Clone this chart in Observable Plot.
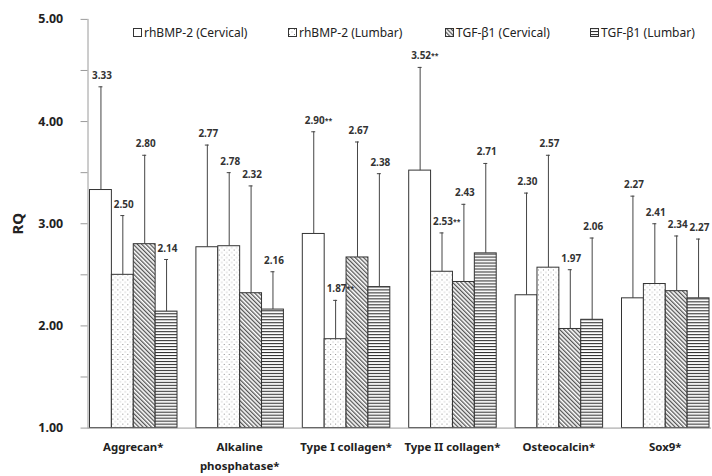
<!DOCTYPE html>
<html>
<head>
<meta charset="utf-8">
<script src="https://cdn.jsdelivr.net/npm/d3@7"></script>
<script src="https://cdn.jsdelivr.net/npm/@observablehq/plot@0.6"></script>
<style>
  html, body { margin: 0; padding: 0; background: #fff; overflow: hidden; }
  #wrap { position: relative; width: 712px; height: 476px; overflow: hidden; }
  #legend { position: absolute; top: 24px; left: 133px; display: grid;
    grid-template-columns: 155px 157px 145px auto; font-family: "Noto Sans", sans-serif;
    font-size: 12px; color: #222; }
  #legend .item { display: flex; align-items: center; white-space: nowrap; }
  #legend svg { margin-right: 2px; }
</style>
</head>
<body>
<div id="wrap"><div id="legend"></div></div>
<script>
// ---- data ----
const categories = ["Aggrecan*", "Alkaline\nphosphatase*", "Type I collagen*", "Type II collagen*", "Osteocalcin*", "Sox9*"];
const series = ["rhBMP-2 (Cervical)", "rhBMP-2 (Lumbar)", "TGF-β1 (Cervical)", "TGF-β1 (Lumbar)"];

const bmpCervical = [3.33, 2.77, 2.90, 3.52, 2.30, 2.27];
const bmpLumbar   = [2.50, 2.78, 1.87, 2.53, 2.57, 2.41];
const tgfCervical = [2.80, 2.32, 2.67, 2.43, 1.97, 2.34];
const tgfLumbar   = [2.14, 2.16, 2.38, 2.71, 2.06, 2.27];

const bmpCervicalSD = [1.01, 1.00, 1.00, 1.01, 1.00, 1.00];
const bmpLumbarSD   = [0.58, 0.72, 0.38, 0.38, 1.10, 0.59];
const tgfCervicalSD = [0.87, 1.05, 1.13, 0.76, 0.58, 0.54];
const tgfLumbarSD   = [0.51, 0.37, 1.11, 0.88, 0.80, 0.58];

const bmpCervicalSig = ["", "", "**", "**", "", ""];
const bmpLumbarSig   = ["", "", "**", "**", "", ""];
const tgfCervicalSig = ["", "", "", "", "", ""];
const tgfLumbarSig   = ["", "", "", "", "", ""];

const yTicks = [1, 2, 3, 4, 5];
const yMinorTicks = [1, 1.5, 2, 2.5, 3, 3.5, 4, 4.5, 5];

// ---- styles ----
const seriesFill = ["white", "url(#pDots)", "url(#pHatch)", "url(#pLines)"];

const meansBySeries = [bmpCervical, bmpLumbar, tgfCervical, tgfLumbar];
const sdBySeries = [bmpCervicalSD, bmpLumbarSD, tgfCervicalSD, tgfLumbarSD];
const sigBySeries = [bmpCervicalSig, bmpLumbarSig, tgfCervicalSig, tgfLumbarSig];

const rows = [];
categories.forEach((c, ci) => {
  series.forEach((s, si) => {
    const mean = meansBySeries[si][ci];
    rows.push({cat: c, series: s, si, mean, top: mean + sdBySeries[si][ci],
      label: d3.format(".2f")(mean), sig: sigBySeries[si][ci]});
  });
});

const defsMarkup = `
  <pattern id="pDots" width="5" height="5" patternUnits="userSpaceOnUse">
    <rect width="5" height="5" fill="white"/>
    <rect x="1" y="1" width="1" height="1" fill="#8a8a8a"/>
    <rect x="3.5" y="3.5" width="1" height="1" fill="#b0b0b0"/>
  </pattern>
  <pattern id="pHatch" width="3" height="3" patternUnits="userSpaceOnUse" patternTransform="rotate(-45)">
    <rect width="3" height="3" fill="white"/>
    <rect x="0" y="0" width="1.3" height="3" fill="#555"/>
  </pattern>
  <pattern id="pLines" width="6" height="3" patternUnits="userSpaceOnUse">
    <rect width="6" height="3" fill="white"/>
    <rect x="0" y="0" width="6" height="1.1" fill="#333"/>
  </pattern>`;

const plot = Plot.plot({
  width: 716,
  height: 476,
  marginLeft: 86,
  marginRight: 0,
  marginTop: 19,
  marginBottom: 46,
  style: {fontFamily: "Noto Sans, sans-serif", background: "white"},
  fx: {domain: categories, paddingInner: 0.145, paddingOuter: 0, axis: null, label: null},
  x: {domain: series, padding: 0, axis: null},
  y: {domain: [1, 5], axis: null},
  color: {type: "identity"},
  marks: [
    Plot.axisY({ticks: yMinorTicks, tickSize: 7, tickFormat: () => "", stroke: "#999", label: null}),
    Plot.axisY({ticks: yTicks, tickSize: 0, tickPadding: 25, tickFormat: d3.format(".2f"),
      fontSize: 12.5, fontWeight: "bold", fill: "#222", label: null}),
    Plot.axisY({ticks: [], tickSize: 0, fontSize: 15, fontWeight: "bold", fill: "#222",
      label: "RQ", labelAnchor: "center", labelArrow: "none", labelOffset: 76}),
    Plot.barY(rows, {fx: "cat", x: "series", y1: 1, y2: "mean", fill: d => seriesFill[d.si], stroke: "#333", strokeWidth: 1}),
    Plot.ruleX(rows, {fx: "cat", x: "series", y1: "mean", y2: "top", stroke: "#444", strokeWidth: 1}),
    Plot.tickY(rows, {fx: "cat", x: "series", y: "top", stroke: "#444", strokeWidth: 1, insetLeft: 9, insetRight: 9}),
    Plot.text(rows, {fx: "cat", x: "series", y: "top", text: "label", textAnchor: "start", dx: -9, dy: -8,
      lineAnchor: "bottom", fontSize: 10, fontWeight: "bold", fill: "#333"}),
    Plot.text(rows, {fx: "cat", x: "series", y: "top", text: "sig", textAnchor: "start", dx: 11, dy: -9,
      lineAnchor: "bottom", fontSize: 7, fontWeight: "bold", fill: "#333"}),
    Plot.text(categories, {fx: d => d, text: d => d, frameAnchor: "bottom", lineAnchor: "top", dy: 10,
      fontSize: 11.5, fontWeight: "bold", fill: "#222", lineHeight: 1.65}),
    Plot.frame({anchor: "left", facet: "super", stroke: "#999"}),
    Plot.frame({anchor: "bottom", facet: "super", stroke: "#999"})
  ]
});

const defs = document.createElementNS("http://www.w3.org/2000/svg", "defs");
defs.innerHTML = defsMarkup;
plot.insertBefore(defs, plot.firstChild);
document.getElementById("wrap").insertBefore(plot, document.getElementById("legend"));

const legend = document.getElementById("legend");
series.forEach((s, i) => {
  const item = document.createElement("div");
  item.className = "item";
  item.innerHTML = `<svg width="9" height="9"><rect x="0.5" y="0.5" width="8" height="8" fill="${seriesFill[i]}" stroke="#333"/></svg><span>${s}</span>`;
  legend.appendChild(item);
});
</script>
</body>
</html>
